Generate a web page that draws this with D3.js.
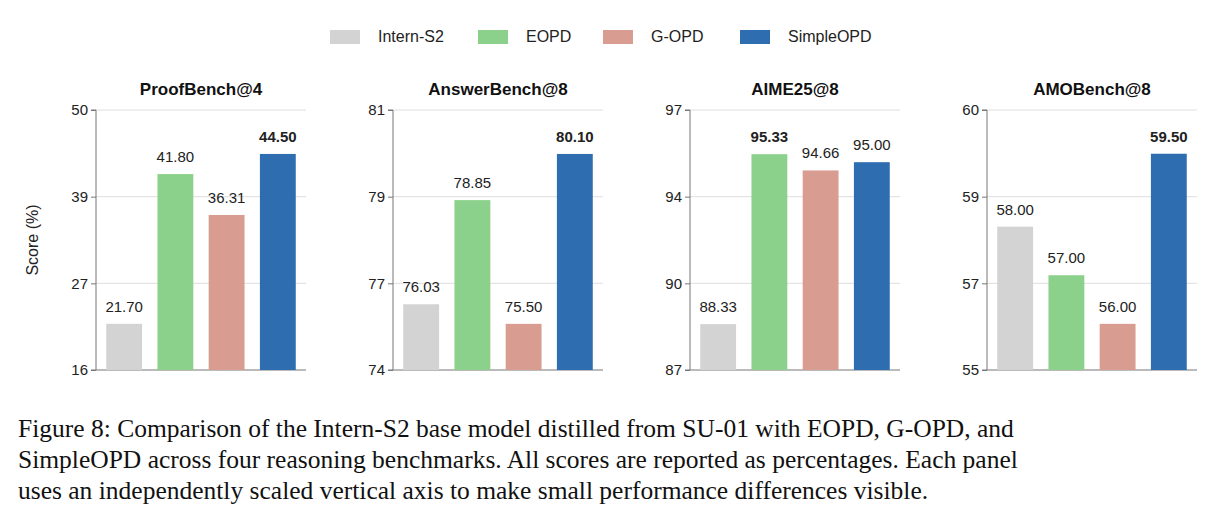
<!DOCTYPE html>
<html><head><meta charset="utf-8">
<script src="https://cdn.jsdelivr.net/npm/d3@7"></script>
<style>body{margin:0;background:#fff}svg{display:block}</style>
</head><body><svg id="c" width="1221" height="528"></svg>
<script>
const models = ["Intern-S2", "EOPD", "G-OPD", "SimpleOPD"]
const colors = ["#d3d3d3", "#8bd18b", "#d99c90", "#2e6eb0"]
const benches = ["ProofBench@4", "AnswerBench@8", "AIME25@8", "AMOBench@8"]
const scores = [
  [21.70, 41.80, 36.31, 44.50],
  [76.03, 78.85, 75.50, 80.10],
  [88.33, 95.33, 94.66, 95.00],
  [58.00, 57.00, 56.00, 59.50]
]
const domains = [[15.5, 50.4], [74.25, 81.29], [86.44, 97.15], [55.05, 60.4]]
const tickLabels = [["16","27","39","50"], ["74","77","79","81"], ["87","90","94","97"], ["55","57","59","60"]]
const best = [3, 3, 1, 3] // bold label index
const caption = [
  "Figure 8: Comparison of the Intern-S2 base model distilled from SU-01 with EOPD, G-OPD, and",
  "SimpleOPD across four reasoning benchmarks. All scores are reported as percentages. Each panel",
  "uses an independently scaled vertical axis to make small performance differences visible."
]

const svg = d3.select("#c")
const font = "Liberation Sans, Arial, sans-serif"

// legend
const legX = [330, 478, 603, 740]
models.forEach((m, i) => {
  svg.append("rect").attr("x", legX[i]).attr("y", 30).attr("width", 30).attr("height", 14).attr("fill", colors[i])
  svg.append("text").attr("x", legX[i] + 48).attr("y", 42).text(m)
    .attr("font-family", font).attr("font-size", 16).attr("fill", "#222")
})

const plotTop = 110, plotBottom = 370, pw = 210
benches.forEach((b, p) => {
  const x0 = 96 + p * 297
  const g = svg.append("g").attr("transform", `translate(${x0},0)`)
  const y = d3.scaleLinear().domain(domains[p]).range([plotBottom, plotTop])
  const x = d3.scaleBand().domain(models).range([0, pw]).paddingInner(0.3).paddingOuter(0.2)
  const d0 = domains[p][0], d1 = domains[p][1]
  const tv = d3.range(4).map(k => d0 + (d1 - d0) * k / 3)

  g.selectAll(".grid").data(tv.slice(1)).join("line")
    .attr("x1", 0).attr("x2", pw).attr("y1", d => y(d)).attr("y2", d => y(d))
    .attr("stroke", "#dedede").attr("stroke-width", 1)

  const ax = g.append("g").call(d3.axisLeft(y).tickValues(tv).tickSize(5).tickFormat((d, k) => tickLabels[p][k]))
  ax.selectAll("text").attr("font-family", font).attr("font-size", 15).attr("fill", "#222")
  ax.selectAll("path,line").attr("stroke", "#777")
  ax.select(".domain").attr("d", `M-5,${plotTop}H0V${plotBottom}H-5`)
  g.append("line").attr("x1", 0).attr("x2", pw).attr("y1", plotBottom).attr("y2", plotBottom).attr("stroke", "#777")

  g.selectAll(".bar").data(scores[p]).join("rect")
    .attr("x", (d, i) => x(models[i])).attr("width", x.bandwidth())
    .attr("y", d => y(d)).attr("height", d => plotBottom - y(d))
    .attr("fill", (d, i) => colors[i])
  g.selectAll(".val").data(scores[p]).join("text")
    .attr("x", (d, i) => x(models[i]) + x.bandwidth() / 2).attr("y", d => y(d) - 12)
    .attr("text-anchor", "middle").text(d => d.toFixed(2))
    .attr("font-family", font).attr("font-size", 15)
    .attr("font-weight", (d, i) => i == best[p] ? "bold" : "normal")
    .attr("fill", "#222")

  g.append("text").attr("x", pw / 2).attr("y", 95).attr("text-anchor", "middle").text(b)
    .attr("font-family", font).attr("font-size", 17).attr("font-weight", "bold").attr("fill", "#111")
})

svg.append("text").attr("transform", "translate(38,240) rotate(-90)").attr("text-anchor", "middle")
  .text("Score (%)").attr("font-family", font).attr("font-size", 16).attr("fill", "#222")

caption.forEach((c, i) => {
  svg.append("text").attr("x", 18).attr("y", 437 + i * 31).text(c)
    .attr("font-family", "Liberation Serif, Times New Roman, serif").attr("font-size", 25.5).attr("fill", "#111")
})
</script></body></html>
